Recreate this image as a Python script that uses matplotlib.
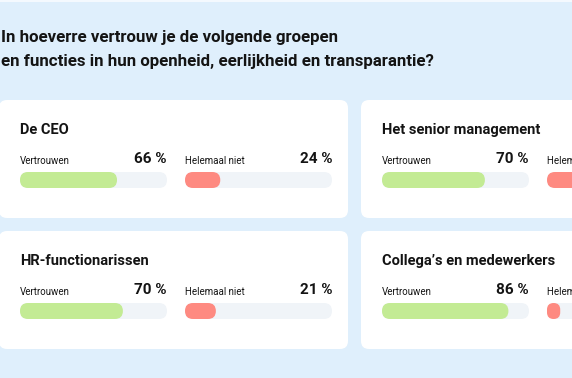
import matplotlib
matplotlib.use("Agg")
import matplotlib.pyplot as plt
from matplotlib.patches import FancyBboxPatch, Rectangle

# ---- data ----
title_lines = ["In hoeverre vertrouw je de volgende groepen",
               "en functies in hun openheid, eerlijkheid en transparantie?"]
groups = ["De CEO", "Het senior management", "HR-functionarissen", "Collega\u2019s en medewerkers"]
trust_label = "Vertrouwen"
distrust_label = "Helemaal niet"
trust = [66, 70, 70, 86]
distrust = [24, 22, 21, 9]

# ---- style ----
W, H = 572, 378
BG = "#dfeffc"
CARD = "#ffffff"
TRACK = "#f0f4f8"
GREEN = "#c3eb94"
RED = "#fe8a81"
TXT = "#141414"
FONT = ["Roboto", "DejaVu Sans"]
plt.rcParams["font.family"] = FONT

fig = plt.figure(figsize=(W / 100, H / 100), dpi=100)
fig.patch.set_facecolor(BG)
bg = fig.add_axes([0, 0, 1, 1])
bg.set_xlim(0, W)
bg.set_ylim(H, 0)
bg.axis("off")

bg.add_patch(Rectangle((0, 0), W, 2, color="#f4f9fe", lw=0))

bg.text(1, 42, title_lines[0], fontsize=12.2, color=TXT, fontweight="semibold", va="baseline", ha="left")
bg.text(1, 66, title_lines[1], fontsize=12.2, color=TXT, fontweight="semibold", va="baseline", ha="left")

card_pos = [(-1, 100), (361, 100), (-1, 231), (361, 231)]
CW, CH = 349, 118
TRACK_W, BAR_H = 147, 16


def pix_axes(x, y, w, h):
    return fig.add_axes([x / W, 1 - (y + h) / H, w / W, h / H])


def pill_track(x, y, value, color):
    ax = pix_axes(x, y, TRACK_W, BAR_H)
    ax.set_xlim(0, 100)
    ax.set_ylim(0, 1)
    ax.axis("off")
    m = TRACK_W / (BAR_H * 100.0)
    r_full = (BAR_H / 2) * 100.0 / TRACK_W
    for v, c in [(100, TRACK), (value, color)]:
        r = min(r_full, v / 2)
        p = FancyBboxPatch((0, 0), v, 1, boxstyle=f"round,pad=0,rounding_size={r}",
                           mutation_aspect=m, fc=c, ec="none", lw=0, clip_on=False)
        ax.add_patch(p)


for i, (cx, cy) in enumerate(card_pos):
    bg.add_patch(FancyBboxPatch((cx, cy), CW, CH, boxstyle="round,pad=0,rounding_size=8",
                                fc=CARD, ec="none", lw=0))
    x0 = cx + 21
    bg.text(x0, cy + 30, groups[i], fontsize=10.5, color=TXT, fontweight="semibold", va="center", ha="left")
    for j, (lab, val, col) in enumerate([(trust_label, trust[i], GREEN),
                                         (distrust_label, distrust[i], RED)]):
        tx = x0 + j * 165
        bg.text(tx, cy + 61, lab, fontsize=7, color=TXT, va="center", ha="left")
        bg.text(tx + TRACK_W, cy + 59, f"{val} %", fontsize=11, color=TXT, fontweight="semibold",
                va="center", ha="right")
        pill_track(tx, cy + 72, val, col)

fig.savefig("out.png", dpi=100, facecolor=BG)
